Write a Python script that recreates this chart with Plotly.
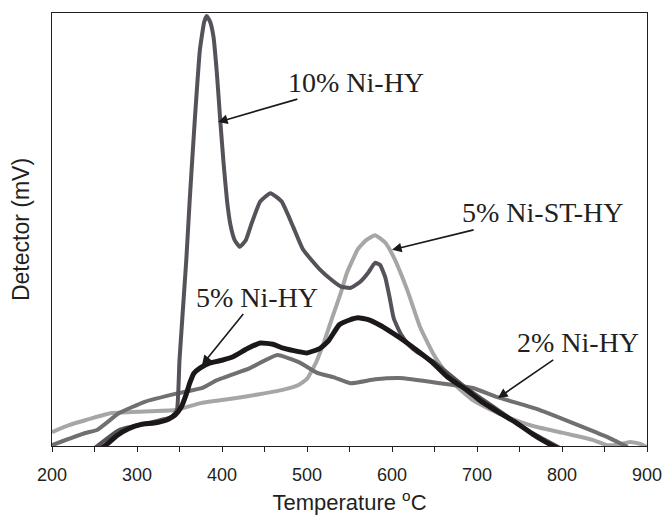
import plotly.graph_objects as go

# 5% Ni-ST-HY (light gray)
t_st = [200, 220, 240, 270, 300, 345, 375, 400, 430, 470, 490, 500, 510, 520, 530, 540, 547, 560, 570, 580,
        592, 602, 618, 633, 648, 665, 677, 695, 715, 735, 755, 774, 800, 813, 836, 853, 865, 880, 892, 900]
v_st = [3.2, 4.8, 6.0, 7.6, 7.9, 8.3, 9.9, 10.6, 11.5, 12.9, 14.1, 15.5, 19.0, 24.0, 29.8, 35.5, 40.0, 45.5, 47.6, 48.7,
        47.0, 43.6, 36.0, 27.5, 21.5, 16.5, 13.6, 10.6, 8.5, 6.7, 5.3, 4.2, 3.1, 2.5, 1.4, 0.2, 0.3, 0.9, 0.5, -0.2]

# 2% Ni-HY (medium gray)
t_2 = [200, 239, 253, 279, 309, 349, 377, 394, 433, 465, 492, 512, 531, 551, 580, 609, 657, 695, 724, 774, 813, 853, 877]
v_2 = [0.2, 3.0, 3.7, 7.6, 10.2, 12.2, 13.4, 15.2, 18.0, 21.0, 19.2, 16.9, 15.9, 14.5, 15.4, 15.7, 14.5, 13.4, 11.3, 8.3, 5.3, 2.1, -0.2]

# 10% Ni-HY (dark gray)
t_10 = [250, 279, 318, 341, 347, 350, 358, 362, 368, 374, 379, 382, 386, 390, 394, 398, 402, 406, 410, 415, 421, 428,
        435, 445, 457, 470, 484, 495, 505, 515, 528, 540, 551, 562, 572, 580, 586, 592, 597, 602, 610, 620, 630,
        648, 688, 727, 765, 798]
v_10 = [-0.5, 3.7, 5.5, 6.7, 8.3, 19.9, 43.0, 56.8, 75.3, 91.5, 97.9, 99.3, 98.0, 94.5, 86.0, 75.0, 65.0, 56.5, 51.0, 47.5, 46.0, 47.5,
        51.5, 56.5, 58.4, 56.5, 50.5, 45.5, 43.0, 40.8, 38.5, 36.8, 36.5, 37.8, 40.0, 42.3, 41.8, 39.0, 34.5, 29.5, 26.0, 23.3, 21.6,
        19.6, 13.3, 8.0, 3.0, -0.5]

# 5% Ni-HY (black)
t_5 = [255, 265, 277, 290, 305, 320, 335, 345, 352, 358, 362, 367, 374, 386, 400, 413, 430, 445, 460, 472, 490, 500,
       515, 525, 538, 550, 560, 572, 586, 600, 610, 630, 648, 665, 688, 705, 727, 745, 765, 780, 795]
v_5 = [-1.0, 0.5, 2.5, 4.0, 5.0, 5.3, 6.0, 7.2, 9.0, 12.0, 14.5, 16.8, 18.0, 19.2, 19.8, 20.6, 22.5, 23.8, 23.5, 22.6, 21.8, 21.5,
       22.5, 24.2, 28.0, 29.1, 29.6, 29.2, 27.9, 26.2, 24.9, 22.0, 19.2, 16.0, 12.9, 10.3, 7.6, 5.5, 2.8, 1.0, -0.5]

x_ticks = [200, 300, 400, 500, 600, 700, 800, 900]

fig = go.Figure()
series = [
    ("5% Ni-ST-HY", t_st, v_st, "#a6a6a6", 4),
    ("2% Ni-HY", t_2, v_2, "#707070", 4),
    ("10% Ni-HY", t_10, v_10, "#57525a", 4),
    ("5% Ni-HY", t_5, v_5, "#1c1819", 5),
]
for name, t, v, c, w in series:
    fig.add_trace(go.Scatter(x=t, y=v, mode="lines", name=name,
                             line=dict(color=c, width=w, shape="spline", smoothing=0.4)))

labels = [
    ("10% Ni-HY", 395.3, 74.8, 138, -40),
    ("5% Ni-ST-HY", 600, 45.3, 151, -37),
    ("2% Ni-HY", 724.7, 11.1, 80, -55),
    ("5% Ni-HY", 376.5, 18.7, 55, -68),
]
for txt, hx, hy, ax, ay in labels:
    fig.add_annotation(x=hx, y=hy, ax=ax, ay=ay, text=txt, showarrow=True,
                       arrowhead=2, arrowsize=1.2, arrowwidth=1.6, arrowcolor="#1a1a1a",
                       font=dict(family="Liberation Serif", size=28, color="#231f20"))

fig.update_layout(
    width=666, height=515,
    margin=dict(l=52, r=19, t=13, b=69),
    paper_bgcolor="white", plot_bgcolor="white",
    showlegend=False,
    font=dict(family="Liberation Sans", color="#231f20"),
)
fig.update_xaxes(range=[200, 900], tickvals=x_ticks, ticks="outside", ticklen=5, tickcolor="#231f20",
                 tickfont=dict(size=18), showgrid=False, zeroline=False, automargin=False,
                 showline=True, linecolor="#231f20", linewidth=1.2, mirror=True,
                 minor=dict(dtick=50, ticks="outside", ticklen=5, tickcolor="#231f20", showgrid=False),
                 ticklabelstandoff=7,
                 title=dict(text="Temperature <sup>o</sup>C", font=dict(size=22), standoff=20))
fig.update_yaxes(range=[0, 100], showticklabels=False, ticks="", showgrid=False, zeroline=False,
                 automargin=False,
                 showline=True, linecolor="#231f20", linewidth=1.2, mirror=True,
                 title=dict(text="Detector (mV)", font=dict(size=23), standoff=14))

fig.write_html("out.html", config={"displayModeBar": False},
               post_script="document.body.style.margin='0';document.body.style.overflow='hidden';")
